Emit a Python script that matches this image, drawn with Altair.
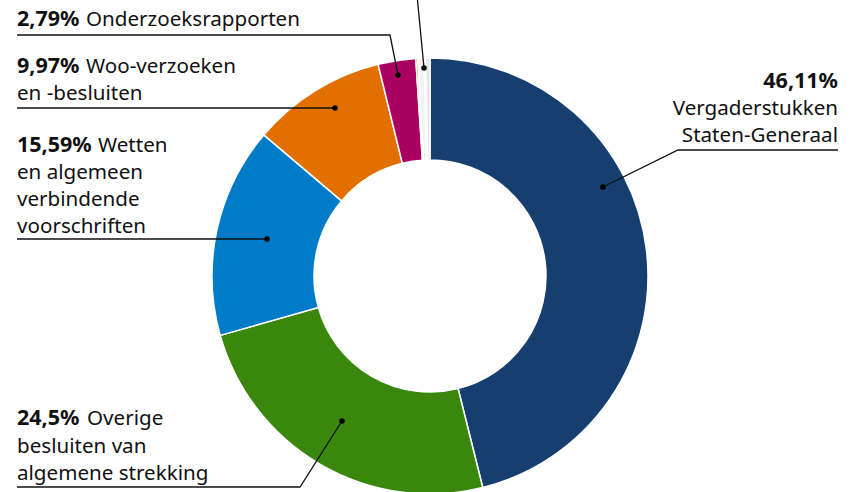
import altair as alt
import pandas as pd

# ---- data ----
categories = [
    "Vergaderstukken Staten-Generaal",
    "Overige besluiten van algemene strekking",
    "Wetten en algemeen verbindende voorschriften",
    "Woo-verzoeken en -besluiten",
    "Onderzoeksrapporten",
    "Overig 1",
    "Overig 2",
    "Overig 3",
    "Overig 4",
]
values = [46.11, 24.5, 15.59, 9.97, 2.79, 0.15, 0.45, 0.12, 0.32]
colors = ["#163f6f", "#39870c", "#007bc7", "#e17000", "#a90061",
          "#8a8f00", "#f2f2f2", "#b8b8b8", "#e4e4e4"]

pie = pd.DataFrame({"cat": categories, "value": values, "order": list(range(len(values)))})

FONT = "Noto Sans"
W, H = 852, 492
CX, CY = 430, 276

# label lines (bold part, normal part)
label_bold = ["2,79%", "9,97%", "15,59%", "24,5%", "46,11%"]
label_rest = [
    ["Onderzoeksrapporten"],
    ["Woo-verzoeken", "en -besluiten"],
    ["Wetten", "en algemeen", "verbindende", "voorschriften"],
    ["Overige", "besluiten van", "algemene strekking"],
    ["Vergaderstukken", "Staten-Generaal"],
]

# annotation layout (pixel positions)
bold_pos = [(17, 26), (17, 73), (17, 152), (17, 425), (838, 88)]
rest_first_x = [86, 86, 98, 87, 838]
rest_baselines = [[26], [73, 100], [152, 179, 206, 233], [425, 453, 480], [115, 142]]
aligns = ["left", "left", "left", "left", "right"]

bold_rows = []
rest_rows = []
for i, b in enumerate(label_bold):
    bx, by = bold_pos[i]
    bold_rows.append({"x": bx, "y": by, "t": b, "a": aligns[i]})
    for j, line in enumerate(label_rest[i]):
        if aligns[i] == "right":
            x = 838
        else:
            x = rest_first_x[i] if j == 0 else 17
        rest_rows.append({"x": x, "y": rest_baselines[i][j], "t": line, "a": aligns[i]})

leaders = [
    [(17, 35), (390, 35), (398, 75)],
    [(17, 108), (335, 108)],
    [(17, 239), (267, 239)],
    [(17, 487), (300, 487), (342, 421)],
    [(838, 150), (678, 150), (603, 187)],
    [(417, -5), (424, 68)],
]
line_rows = []
dot_rows = []
for g, pts in enumerate(leaders):
    for k, (x, y) in enumerate(pts):
        line_rows.append({"g": g, "k": k, "x": x, "y": y})
    dot_rows.append({"x": pts[-1][0], "y": pts[-1][1]})

xs = alt.Scale(domain=[0, W], range=[0, W])
ys = alt.Scale(domain=[0, H], range=[0, H])

arcs = alt.Chart(pie).mark_arc(innerRadius=116, outerRadius=218, stroke="white", strokeWidth=1.5).encode(
    theta=alt.Theta("value:Q", stack=True),
    order=alt.Order("order:Q"),
    color=alt.Color("cat:N", scale=alt.Scale(domain=categories, range=colors), legend=None),
    x=alt.value(CX),
    y=alt.value(CY),
)

lines = alt.Chart(pd.DataFrame(line_rows)).mark_line(color="#111111", strokeWidth=1.3).encode(
    x=alt.X("x:Q", scale=xs, axis=None),
    y=alt.Y("y:Q", scale=ys, axis=None),
    detail="g:N",
    order="k:Q",
)

dots = alt.Chart(pd.DataFrame(dot_rows)).mark_circle(color="#000000", size=30, opacity=1).encode(
    x=alt.X("x:Q", scale=xs, axis=None),
    y=alt.Y("y:Q", scale=ys, axis=None),
)

bdf = pd.DataFrame(bold_rows)
rdf = pd.DataFrame(rest_rows)

def text_layer(df, align, weight, size):
    return alt.Chart(df[df["a"] == align]).mark_text(
        font=FONT, fontSize=size, fontWeight=weight, color="#111111", align=align, baseline="alphabetic"
    ).encode(
        x=alt.X("x:Q", scale=xs, axis=None),
        y=alt.Y("y:Q", scale=ys, axis=None),
        text="t:N",
    )

chart = alt.layer(
    arcs, lines, dots,
    text_layer(bdf, "left", "bold", 21.5), text_layer(bdf, "right", "bold", 21.5),
    text_layer(rdf, "left", "normal", 20.6), text_layer(rdf, "right", "normal", 20.6),
).properties(
    width=W, height=H, padding=0, autosize=alt.AutoSizeParams(type="none"), background="white"
).configure_view(stroke=None)

chart.save("out.html", embed_options={"renderer": "svg", "actions": False})
